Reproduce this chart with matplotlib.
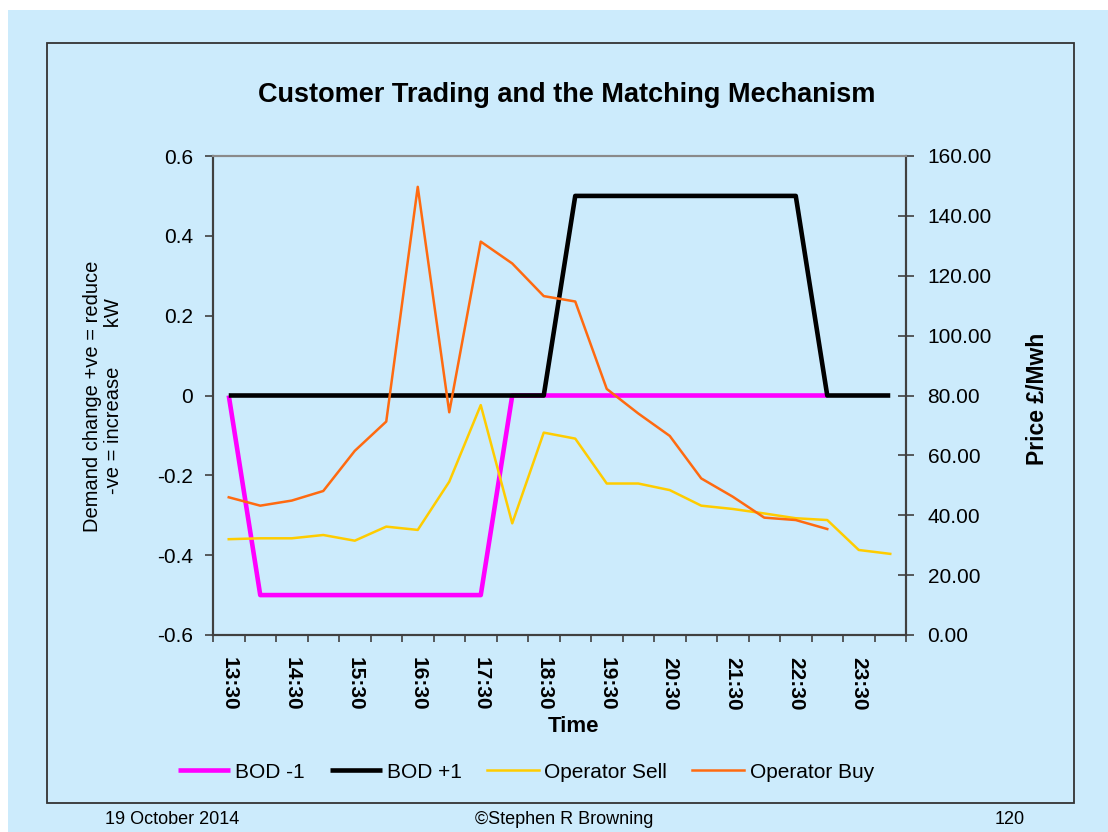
import numpy as np
import matplotlib
matplotlib.use("Agg")
import matplotlib.pyplot as plt
from matplotlib.patches import Rectangle

plt.rcParams["font.family"] = ["Liberation Sans", "DejaVu Sans"]

# half-hour periods from 13:30 to 00:00
times = ["13:30", "14:00", "14:30", "15:00", "15:30", "16:00", "16:30", "17:00",
         "17:30", "18:00", "18:30", "19:00", "19:30", "20:00", "20:30", "21:00",
         "21:30", "22:00", "22:30", "23:00", "23:30", "00:00"]

bod_minus = [0, -0.5, -0.5, -0.5, -0.5, -0.5, -0.5, -0.5, -0.5, 0,
             0, 0, 0, 0, 0, 0, 0, 0, 0, 0]
bod_plus = [0, 0, 0, 0, 0, 0, 0, 0, 0, 0, 0,
            0.5, 0.5, 0.5, 0.5, 0.5, 0.5, 0.5, 0.5, 0, 0, 0]
operator_sell = [32.0, 32.3, 32.3, 33.4, 31.5, 36.2, 35.1, 51.2, 76.8, 37.3, 67.6,
                 65.6, 50.6, 50.6, 48.4, 43.2, 42.1, 40.6, 39.0, 38.4, 28.4, 27.1]
operator_buy = [46.0, 43.2, 44.9, 48.1, 61.5, 71.3, 149.7, 74.4, 131.4, 124.1,
                113.2, 111.4, 82.2, 74.0, 66.5, 52.3, 46.2, 39.2, 38.4, 35.4]

left_ticks = [-0.6, -0.4, -0.2, 0, 0.2, 0.4, 0.6]
right_ticks = [0, 20, 40, 60, 80, 100, 120, 140, 160]

bg = "#CCEBFC"
axis_col = "#404040"

fig = plt.figure(figsize=(11.08, 8.32), dpi=100, facecolor="white")
fig.patches.append(Rectangle((8 / 1108, 0), 1, 822 / 832, transform=fig.transFigure,
                             facecolor=bg, edgecolor="none", zorder=-10))
fig.patches.append(Rectangle((47 / 1108, 1 - 803 / 832), (1074 - 47) / 1108, (803 - 43) / 832,
                             transform=fig.transFigure, facecolor="none",
                             edgecolor="#333333", linewidth=1.3, zorder=-5))

ax = fig.add_axes([213 / 1108, 1 - 635 / 832, (906 - 213) / 1108, (635 - 156) / 832])
ax.set_facecolor(bg)
x_minus = np.arange(len(bod_minus))
x_all = np.arange(len(times))
l1, = ax.plot(x_minus, bod_minus, color="#FF00FF", lw=3.3, solid_capstyle="butt", label="BOD -1")
l2, = ax.plot(x_all, bod_plus, color="black", lw=3.3, solid_capstyle="butt", label="BOD +1")
ax.set_ylim(-0.6, 0.6)
ax.set_yticks(left_ticks)
ax.set_yticklabels(["%g" % v for v in left_ticks])
ax.set_xlim(-0.5, len(times) - 0.5)

ax2 = ax.twinx()
l3, = ax2.plot(x_all, operator_sell, color="#FFCC00", lw=1.8, label="Operator Sell")
l4, = ax2.plot(np.arange(len(operator_buy)), operator_buy, color="#FF6A10", lw=1.8,
               label="Operator Buy")
ax2.set_ylim(0, 160)
ax2.set_yticks(right_ticks)
ax2.set_yticklabels(["%.2f" % v for v in right_ticks])

# category boundaries as ticks, labels every hour
ax.set_xticks(np.arange(-0.5, len(times), 1))
ax.set_xticklabels([])
ax.set_xticks(x_all[::2], minor=True)
ax.set_xticklabels(times[::2], minor=True, rotation=-90, fontweight="bold", fontsize=15)
ax.tick_params(axis="x", which="minor", length=0, pad=16)
ax.tick_params(axis="x", which="major", direction="out", length=5, width=1.2, color=axis_col)
ax.tick_params(axis="y", direction="out", length=5.5, width=1.2, color=axis_col,
               labelsize=15, pad=9)
ax2.tick_params(axis="y", direction="inout", length=11, width=1.2, color=axis_col,
                labelsize=15, pad=10)

for a in (ax, ax2):
    for s in a.spines.values():
        s.set_color(axis_col)
        s.set_linewidth(1.5)
    a.spines["top"].set_color("#8A8A8A")

fig.text(567 / 1108, 1 - 95 / 832, "Customer Trading and the Matching Mechanism",
         ha="center", va="center", fontsize=19.5, fontweight="bold")
fig.text(103 / 1108, 1 - 396 / 832, "Demand change +ve = reduce\n-ve = increase       kW",
         ha="center", va="center", rotation=90, fontsize=14.5, linespacing=1.1)
fig.text(1037 / 1108, 1 - 399 / 832, "Price £/Mwh", ha="center", va="center",
         rotation=90, fontsize=16.5, fontweight="bold")
fig.text(573 / 1108, 1 - 726 / 832, "Time", ha="center", va="center",
         fontsize=16, fontweight="bold")

fig.legend(handles=[l1, l2, l3, l4], loc="center", bbox_to_anchor=(526 / 1108, 1 - 772 / 832),
           ncol=4, frameon=False, fontsize=15, handlelength=2.5, handletextpad=0.25,
           columnspacing=1.2)

fig.text(105 / 1108, 1 - 820 / 832, "19 October 2014", ha="left", va="center", fontsize=13)
fig.text(564 / 1108, 1 - 820 / 832, "©Stephen R Browning", ha="center", va="center", fontsize=13)
fig.text(1010 / 1108, 1 - 820 / 832, "120", ha="center", va="center", fontsize=13)

fig.savefig("out.png", dpi=100, facecolor=fig.get_facecolor())
